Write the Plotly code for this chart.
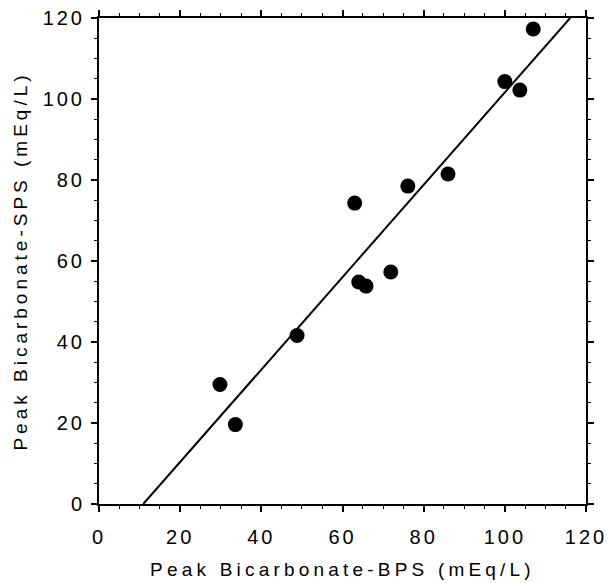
import plotly.graph_objects as go

# Data
bps = [29.8, 33.6, 48.8, 63.0, 64.0, 65.8, 71.9, 76.1, 86.0, 100.0, 103.7, 107.0]
sps = [29.5, 19.6, 41.6, 74.3, 54.8, 53.8, 57.3, 78.5, 81.5, 104.3, 102.2, 117.3]

# Regression line end points
line_x = [10.9, 116.1]
line_y = [0, 120]

x_title = "Peak Bicarbonate-BPS (mEq/L)"
y_title = "Peak Bicarbonate-SPS (mEq/L)"
tick_vals = [0, 20, 40, 60, 80, 100, 120]
tick_text = [str(v) for v in tick_vals]

def spaced(s, px):
    return f'<span style="letter-spacing:{px}px">{s}</span>'

FONT = "Liberation Sans, Arial, sans-serif"

fig = go.Figure()
fig.add_trace(go.Scatter(x=line_x, y=line_y, mode="lines",
                         line=dict(color="black", width=2), showlegend=False,
                         hoverinfo="skip"))
fig.add_trace(go.Scatter(x=bps, y=sps, mode="markers",
                         marker=dict(color="black", size=15, line=dict(width=0)),
                         showlegend=False))

axis_common = dict(
    range=[0, 120], tickmode="array", tickvals=tick_vals,
    ticktext=[spaced(t, 3) for t in tick_text],
    ticks="outside", ticklen=6, tickwidth=1.5, tickcolor="black",
    minor=dict(dtick=5, ticks="outside", ticklen=3, tickwidth=1, tickcolor="black"),
    showline=True, linecolor="black", linewidth=2, mirror="ticks",
    showgrid=False, zeroline=False, automargin=False,
    ticklabeloverflow="allow",
    tickfont=dict(family=FONT, size=20, color="black"),
)

fig.update_xaxes(**axis_common,
                 title=dict(text=spaced(x_title, 4.2), font=dict(family=FONT, size=19, color="black"),
                            standoff=16),
                 ticklabelstandoff=8)
fig.update_yaxes(**axis_common,
                 title=dict(text=spaced(y_title, 4.0), font=dict(family=FONT, size=19, color="black"),
                            standoff=10),
                 ticklabelstandoff=2)

fig.update_layout(
    width=608, height=583,
    margin=dict(l=99, r=22, t=18, b=79),
    plot_bgcolor="white", paper_bgcolor="white",
)

fig.write_html("out.html",
               config={"displayModeBar": False},
               post_script="document.body.style.margin='0';document.body.style.overflow='hidden';")
